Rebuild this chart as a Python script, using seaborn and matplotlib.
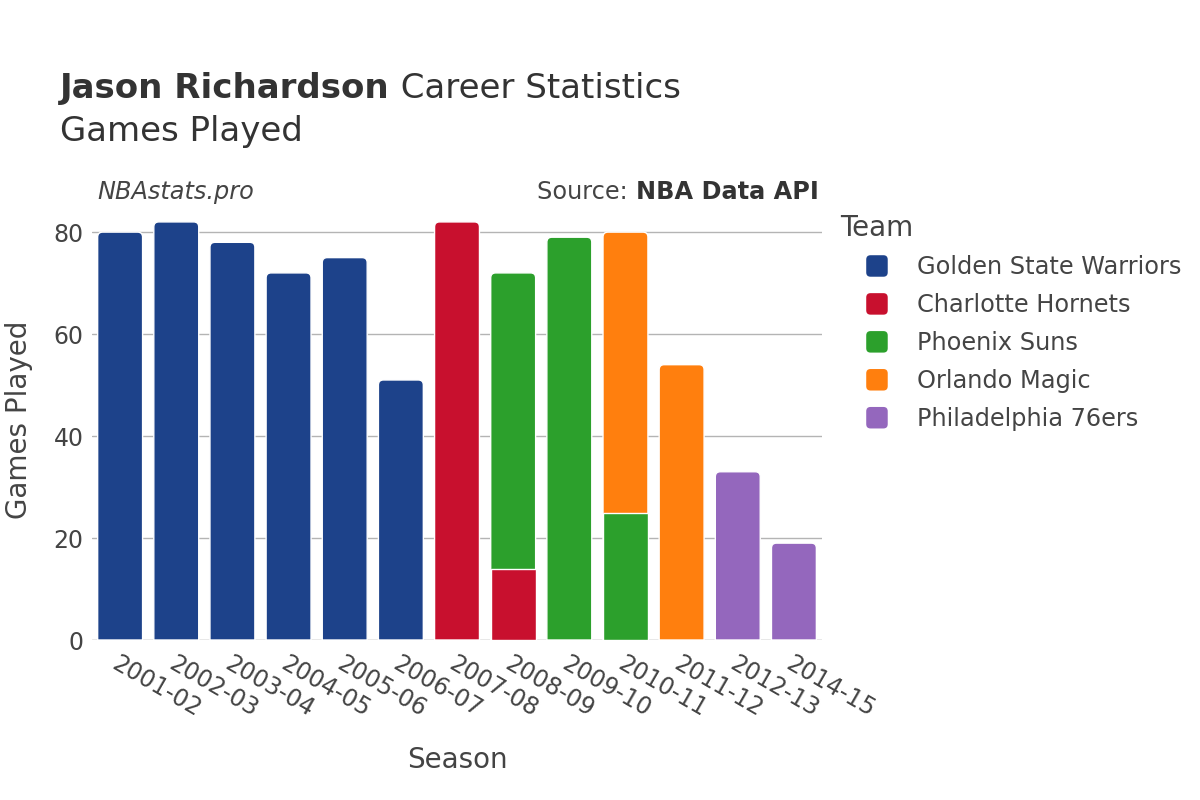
import matplotlib
matplotlib.use('Agg')
import matplotlib.pyplot as plt
import numpy as np
import pandas as pd
import seaborn as sns
from matplotlib.patches import Patch, PathPatch, FancyBboxPatch
from matplotlib.path import Path

seasons = ['2001-02', '2002-03', '2003-04', '2004-05', '2005-06', '2006-07', '2007-08',
           '2008-09', '2009-10', '2010-11', '2011-12', '2012-13', '2014-15']
teams = ['Golden State Warriors', 'Charlotte Hornets', 'Phoenix Suns', 'Orlando Magic', 'Philadelphia 76ers']
team_colors = ['#1d428a', '#c8102e', '#2ca02c', '#ff7f0e', '#9467bd']

# one row per (season, team) stint, in stacking order
row_season = ['2001-02', '2002-03', '2003-04', '2004-05', '2005-06', '2006-07', '2007-08',
              '2008-09', '2008-09', '2009-10', '2010-11', '2010-11', '2011-12', '2012-13', '2014-15']
row_team = ['Golden State Warriors'] * 6 + ['Charlotte Hornets', 'Charlotte Hornets', 'Phoenix Suns',
            'Phoenix Suns', 'Phoenix Suns', 'Orlando Magic', 'Orlando Magic',
            'Philadelphia 76ers', 'Philadelphia 76ers']
row_games = [80, 82, 78, 72, 75, 51, 82, 14, 58, 79, 25, 55, 54, 33, 19]

df = pd.DataFrame({'season': row_season, 'team': row_team, 'games': row_games})
df['top'] = df.groupby('season')['games'].cumsum()
totals = df.groupby('season')['games'].sum().reindex(seasons).values

sns.set_theme(style='white')
plt.rcParams['font.family'] = ['DejaVu Sans']
text_color = '#444444'

fig = plt.figure(figsize=(12, 8), dpi=100)
ax = fig.add_axes([0.0767, 0.2, 0.6083, 0.55])

# draw later teams first with cumulative height, earlier ones paint over the lower part
for team, color in reversed(list(zip(teams, team_colors))):
    sub = df[df['team'] == team]
    sns.barplot(data=sub, x='season', y='top', order=seasons, color=color,
                width=0.8, edgecolor='white', linewidth=1, saturation=1, ax=ax, zorder=3)

ax.set_xlim(-0.5, len(seasons) - 0.5)
ax.set_ylim(0, 86.3)


def rounded_top(x0, w, h, rx, ry):
    x1 = x0 + w
    verts = [(x0, 0), (x0, h - ry), (x0, h), (x0 + rx, h), (x1 - rx, h), (x1, h), (x1, h - ry),
             (x1, 0), (x0, 0)]
    codes = [Path.MOVETO, Path.LINETO, Path.CURVE3, Path.CURVE3, Path.LINETO, Path.CURVE3,
             Path.CURVE3, Path.LINETO, Path.CLOSEPOLY]
    return Path(verts, codes)


# round the top corners of the topmost segment of each stack (about 5 px)
px_x = 0.6083 * 1200 / len(seasons)
px_y = 0.55 * 800 / 86.3
for p in list(ax.patches):
    x0, w, h = p.get_x(), p.get_width(), p.get_height()
    i = int(round(x0 + w / 2))
    if abs(h - totals[i]) < 1e-6:
        pp = PathPatch(rounded_top(x0, w, h, 5 / px_x, 5 / px_y), facecolor=p.get_facecolor(),
                       edgecolor='white', linewidth=1, zorder=2.9)
        p.remove()
        ax.add_patch(pp)

ax.set_yticks([0, 20, 40, 60, 80])
ax.yaxis.grid(True, color='#b4b4b4', linewidth=1)
ax.set_axisbelow(True)
for s in ax.spines.values():
    s.set_visible(False)
ax.axhline(0, color='#e8e8e8', linewidth=2, zorder=2)

ax.tick_params(axis='both', labelsize=17, labelcolor=text_color, length=0)
ax.tick_params(axis='y', pad=6)
ax.set_xticks(range(len(seasons)))
ax.set_xticklabels(seasons, rotation=-30, ha='left', va='top', rotation_mode='anchor')
ax.tick_params(axis='x', pad=8)

ax.set_xlabel('Season', fontsize=20, color=text_color, labelpad=18)
ax.set_ylabel('Games Played', fontsize=20, color=text_color, labelpad=15)

# title
t1 = fig.text(0.05, 0.889, 'Jason Richardson', fontsize=24.5, fontweight='bold', color='#333333', va='center')
fig.canvas.draw()
bb = t1.get_window_extent(fig.canvas.get_renderer())
fig.text(bb.x1 / 1200, 0.889, ' Career Statistics', fontsize=24.5, color='#333333', va='center')
fig.text(0.05, 0.835, 'Games Played', fontsize=24.5, color='#333333', va='center')

fig.text(0.081, 0.76, 'NBAstats.pro', fontsize=17.3, style='italic', color=text_color, va='center')
s2 = fig.text(0.682, 0.76, 'NBA Data API', fontsize=17.3, fontweight='bold', color='#333333',
              va='center', ha='right')
fig.canvas.draw()
bb2 = s2.get_window_extent(fig.canvas.get_renderer())
fig.text(bb2.x0 / 1200, 0.76, 'Source: ', fontsize=17.3, color=text_color, va='center', ha='right')


class RoundHandler:
    def legend_artist(self, legend, orig_handle, fontsize, handlebox):
        x0, y0 = -handlebox.xdescent, -handlebox.ydescent
        w, h = handlebox.width, handlebox.height
        s = min(w, h)
        box = FancyBboxPatch((x0 + (w - s) / 2, y0 + (h - s) / 2), s, s,
                             boxstyle='round,pad=0,rounding_size=%f' % (s * 0.2),
                             facecolor=orig_handle.get_facecolor(), edgecolor='none',
                             transform=handlebox.get_transform())
        handlebox.add_artist(box)
        return box


fig.text(0.7, 0.715, 'Team', fontsize=20, color=text_color, va='center')
handles = [Patch(facecolor=c, edgecolor=c, label=t) for t, c in zip(teams, team_colors)]
leg = fig.legend(handles=handles, loc='upper left', bbox_to_anchor=(0.7208, 0.681),
                 frameon=False, fontsize=17.3, handlelength=1.0, handleheight=1.0,
                 handletextpad=1.17, labelspacing=0.58, borderpad=0, borderaxespad=0,
                 handler_map={Patch: RoundHandler()})
for txt in leg.get_texts():
    txt.set_color(text_color)

fig.savefig('out.png', dpi=100)
